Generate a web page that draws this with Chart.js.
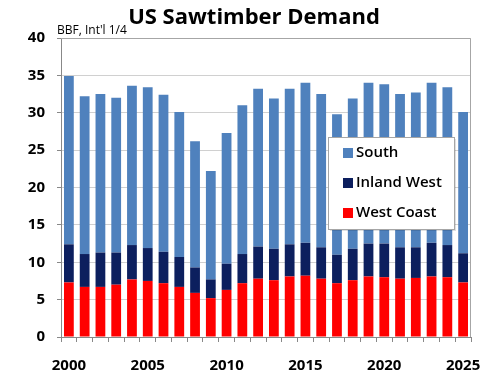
<!DOCTYPE html>
<html lang="en">
<head>
  <meta charset="UTF-8">
  <title>US Sawtimber Demand</title>
  <style>
    html, body { margin: 0; padding: 0; background: #fff; }
    #wrap { width: 500px; height: 377px; }
  </style>
</head>
<body>
  <div id="wrap"><canvas id="graphic"></canvas></div>

  <script src="https://cdn.jsdelivr.net/npm/chart.js"></script>
  <script>
    // data (BBF, Int'l 1/4)
    const years = [2000, 2001, 2002, 2003, 2004, 2005, 2006, 2007, 2008, 2009, 2010, 2011, 2012,
                   2013, 2014, 2015, 2016, 2017, 2018, 2019, 2020, 2021, 2022, 2023, 2024, 2025];
    const westCoast = [7.3, 6.7, 6.7, 7.0, 7.7, 7.5, 7.2, 6.7, 5.9, 5.2, 6.3, 7.2, 7.8,
                       7.6, 8.1, 8.2, 7.8, 7.2, 7.6, 8.1, 8.0, 7.8, 7.9, 8.1, 8.0, 7.3];
    const inlandWest = [5.1, 4.4, 4.6, 4.3, 4.6, 4.4, 4.2, 4.0, 3.4, 2.5, 3.5, 3.9, 4.3,
                        4.2, 4.3, 4.4, 4.2, 3.8, 4.2, 4.4, 4.5, 4.2, 4.1, 4.5, 4.3, 3.9];
    const south = [22.5, 21.1, 21.2, 20.7, 21.3, 21.5, 21.0, 19.4, 16.9, 14.5, 17.5, 19.9, 21.1,
                   20.1, 20.8, 21.4, 20.5, 18.8, 20.1, 21.5, 21.3, 20.5, 20.7, 21.4, 21.1, 18.9];
    const yTicks = [0, 5, 10, 15, 20, 25, 30, 35, 40];

    const fontName = "'Open Sans', 'Noto Sans', sans-serif";

    // title, unit label, plot frame and boxed legend
    const decorations = {
      id: 'decorations',
      afterDraw(chart) {
        const ctx = chart.ctx;
        const a = chart.chartArea;
        ctx.save();

        ctx.strokeStyle = '#a6a6a6';
        ctx.lineWidth = 1;
        ctx.beginPath();
        ctx.moveTo(a.left, a.top + 0.5);
        ctx.lineTo(a.right - 0.5, a.top + 0.5);
        ctx.lineTo(a.right - 0.5, a.bottom);
        ctx.stroke();

        ctx.fillStyle = '#000';
        ctx.textAlign = 'center';
        ctx.textBaseline = 'alphabetic';
        ctx.font = "bold 22px " + fontName;
        ctx.fillText('US Sawtimber Demand', 254, 24);

        ctx.textAlign = 'left';
        ctx.font = "12px " + fontName;
        ctx.fillText("BBF, Int'l 1/4", 57, 34);

        // legend box
        const box = { x: 328, y: 137, w: 126, h: 92 };
        ctx.fillStyle = 'rgba(0,0,0,0.12)';
        ctx.fillRect(box.x + 2, box.y + 2, box.w, box.h);
        ctx.fillStyle = '#fff';
        ctx.fillRect(box.x, box.y, box.w, box.h);
        ctx.strokeStyle = '#a6a6a6';
        ctx.strokeRect(box.x + 0.5, box.y + 0.5, box.w, box.h);

        const items = chart.data.datasets.slice().reverse();
        ctx.font = "600 15px " + fontName;
        ctx.textBaseline = 'middle';
        items.forEach((ds, i) => {
          const cy = 153 + i * 30;
          ctx.fillStyle = ds.backgroundColor;
          ctx.fillRect(343, cy - 5, 10, 10);
          ctx.fillStyle = '#000';
          ctx.fillText(ds.label, 356, cy);
        });

        ctx.restore();
      }
    };

    document.addEventListener("DOMContentLoaded", () => {
      const lienzo = document.getElementById("graphic");

      new Chart(lienzo, {
        type: 'bar',
        data: {
          labels: years,
          datasets: [
            { label: 'West Coast', data: westCoast, backgroundColor: '#ff0000' },
            { label: 'Inland West', data: inlandWest, backgroundColor: '#0c1f5e' },
            { label: 'South', data: south, backgroundColor: '#4f81bd' }
          ]
        },
        options: {
          responsive: true,
          maintainAspectRatio: false,
          animation: false,
          layout: { padding: { top: 38, right: 29, left: 0, bottom: 0 } },
          datasets: { bar: { barPercentage: 0.62, categoryPercentage: 1.0 } },
          plugins: {
            legend: { display: false },
            tooltip: { enabled: false }
          },
          scales: {
            x: {
              stacked: true,
              offset: true,
              afterFit: (s) => { s.height = 40; },
              grid: {
                offset: true,
                drawOnChartArea: false,
                drawTicks: true,
                tickLength: 5,
                color: '#888'
              },
              border: { color: '#888' },
              ticks: {
                autoSkip: false,
                maxRotation: 0,
                padding: 15,
                color: '#000',
                font: { family: fontName, size: 15, weight: 'bold' },
                callback: (v, i) => (years[i] % 5 === 0 ? String(years[i]) : '')
              }
            },
            y: {
              stacked: true,
              min: 0,
              max: 40,
              afterFit: (s) => { s.width = 61; },
              afterBuildTicks: (s) => { s.ticks = yTicks.map(v => ({ value: v })); },
              grid: {
                color: (c) => (c.tick && c.tick.value === 0 ? '#888' : '#d0d0d0'),
                drawTicks: true,
                tickLength: 4,
                tickColor: '#888'
              },
              border: { color: '#888' },
              ticks: {
                padding: 12,
                color: '#000',
                font: { family: fontName, size: 15, weight: 'bold' }
              }
            }
          }
        },
        plugins: [decorations]
      });
    });
  </script>
</body>
</html>
